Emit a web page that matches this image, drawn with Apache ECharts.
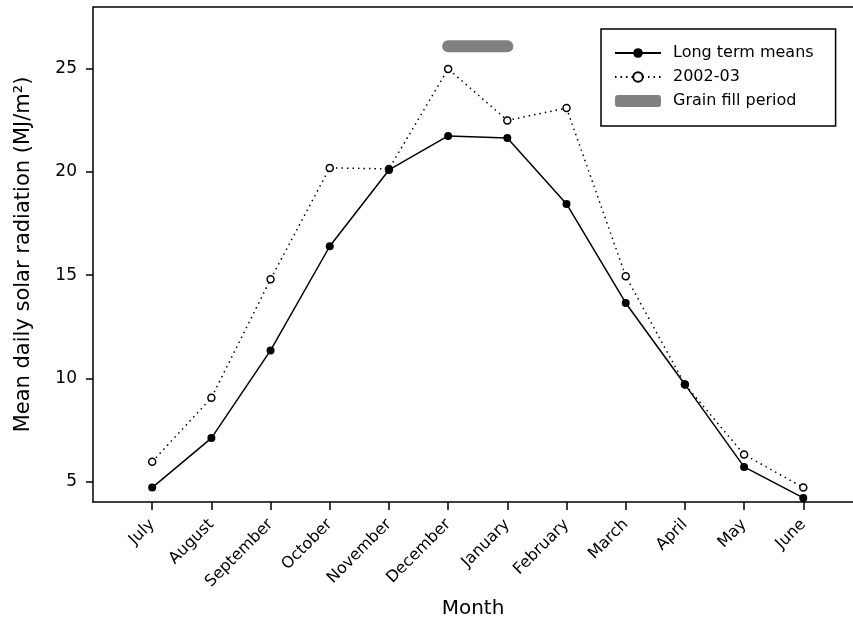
<!DOCTYPE html>
<html>
<head>
<meta charset="utf-8">
<script src="https://cdn.jsdelivr.net/npm/echarts@6/dist/echarts.min.js"></script>
<style>
  html, body { margin: 0; padding: 0; background: #fff; }
  #chart { width: 853px; height: 620px; }
</style>
</head>
<body>
<div id="chart"></div>
<script>
// month labels, July = 1 ... June = 12
const months = ['July', 'August', 'September', 'October', 'November', 'December',
  'January', 'February', 'March', 'April', 'May', 'June']
const longTermMeans = [4.7, 7.1, 11.35, 16.4, 20.1, 21.75, 21.65, 18.45, 13.65, 9.7, 5.7, 4.2]
const season0203 = [5.95, 9.05, 14.8, 20.2, 20.15, 25.0, 22.5, 23.1, 14.95, 9.7, 6.3, 4.7]
// grain fill period runs December -> January
const grainFill = [[6, 26.1], [7, 26.1]]
const yTicks = [5, 10, 15, 20, 25]
const xTicks = [1, 2, 3, 4, 5, 6, 7, 8, 9, 10, 11, 12]

const font = 'DejaVu Sans, Verdana, sans-serif'
const chart = echarts.init(document.getElementById('chart'))

const option = {
  animation: false,
  grid: {
    left: 93,
    right: 0,
    top: 7,
    bottom: 118,
    containLabel: false,
    outerBoundsMode: 'none'
  },
  legend: {
    orient: 'vertical',
    left: 601,
    top: 29,
    padding: [16, 22, 17, 13],
    itemGap: 8,
    itemWidth: 46,
    itemHeight: 12,
    borderColor: '#000',
    borderWidth: 1.5,
    textStyle: { fontFamily: font, fontSize: 16, color: '#000', padding: [0, 0, 0, 7] },
    data: [
      { name: 'Long term means' },
      { name: '2002-03' },
      { name: 'Grain fill period', icon: 'roundRect', itemStyle: { color: '#808080' } }
    ]
  },
  xAxis: {
    type: 'value',
    min: 0,
    max: 12.84,
    name: 'Month',
    nameLocation: 'middle',
    nameGap: 97,
    nameTextStyle: { fontFamily: font, fontSize: 20, color: '#000' },
    splitLine: { show: false },
    axisLine: { onZero: false, lineStyle: { color: '#000', width: 1.5 } },
    axisTick: { customValues: xTicks, length: 8, lineStyle: { color: '#000', width: 1.5 } },
    axisLabel: {
      customValues: xTicks,
      rotate: 45,
      margin: 20,
      fontFamily: font,
      fontSize: 16,
      color: '#000',
      formatter: v => months[Math.round(v) - 1] || ''
    }
  },
  yAxis: {
    type: 'value',
    min: 4,
    max: 28,
    name: 'Mean daily solar radiation (MJ/m²)',
    nameLocation: 'middle',
    nameGap: 59,
    nameTextStyle: { fontFamily: font, fontSize: 21, color: '#000' },
    splitLine: { show: false },
    axisLine: { lineStyle: { color: '#000', width: 1.5 } },
    axisTick: { customValues: yTicks, length: 7, lineStyle: { color: '#000', width: 1.5 } },
    axisLabel: {
      customValues: yTicks,
      margin: 16,
      fontFamily: font,
      fontSize: 17,
      color: '#000'
    }
  },
  series: [
    {
      name: 'Long term means',
      type: 'line',
      data: longTermMeans.map((v, i) => [i + 1, v]),
      symbol: 'circle',
      symbolSize: 8,
      showAllSymbol: true,
      lineStyle: { color: '#000', width: 1.5 },
      itemStyle: { color: '#000' },
      z: 3
    },
    {
      name: '2002-03',
      type: 'line',
      data: season0203.map((v, i) => [i + 1, v]),
      symbol: 'circle',
      symbolSize: 7,
      showAllSymbol: true,
      lineStyle: { color: '#000', width: 1.5, type: [1.5, 4] },
      itemStyle: { color: '#fff', borderColor: '#000', borderWidth: 1.5 },
      z: 2
    },
    {
      name: 'Grain fill period',
      type: 'line',
      data: grainFill,
      symbol: 'none',
      lineStyle: { color: '#808080', width: 12, cap: 'round' },
      itemStyle: { color: '#808080' },
      z: 1
    }
  ],
  graphic: [
    // top border of the frame (open on the right like the original)
    {
      type: 'line',
      shape: { x1: 93, y1: 7, x2: 853, y2: 7 },
      style: { stroke: '#000', lineWidth: 1.5 }
    }
  ]
}

chart.setOption(option)
</script>
</body>
</html>
